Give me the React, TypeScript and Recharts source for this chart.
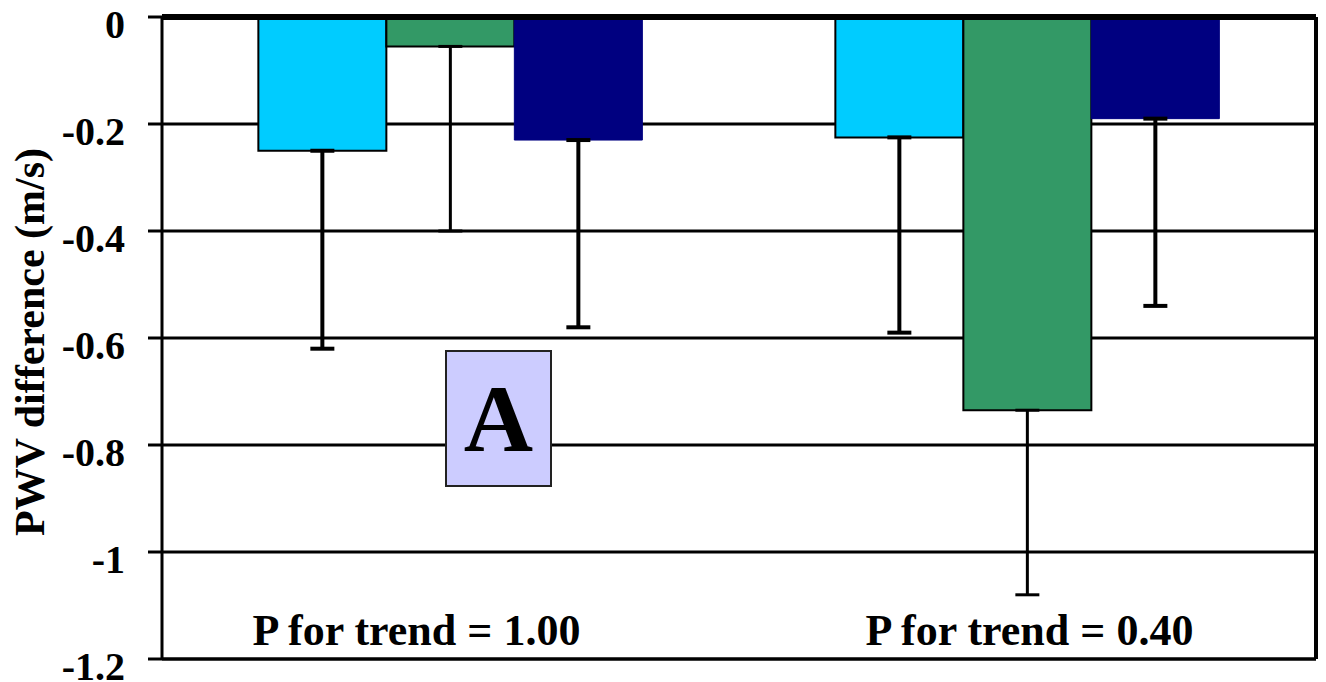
import { BarChart, Bar, XAxis, YAxis, CartesianGrid, ErrorBar, ReferenceLine } from 'recharts'

const categories = ['P for trend = 1.00', 'P for trend = 0.40']
const lightBlue = [-0.25, -0.225]
const green = [-0.055, -0.735]
const navy = [-0.23, -0.19]
// lower error extents (bars only show the downward whisker)
const lightBlueErr = [0.37, 0.365]
const greenErr = [0.345, 0.345]
const navyErr = [0.35, 0.35]
const yTicks = [0, -0.2, -0.4, -0.6, -0.8, -1, -1.2]

const data = categories.map((cat, i) => ({
  cat,
  lightBlue: lightBlue[i],
  green: green[i],
  navy: navy[i],
  lightBlueErr: [lightBlueErr[i], 0],
  greenErr: [greenErr[i], 0],
  navyErr: [navyErr[i], 0],
}))

const font = '"Liberation Serif", "Times New Roman", serif'
const labelDx = [-34, 2]

function YTick(props: any) {
  const { x, y, payload } = props
  return (
    <text x={x - 21} y={y + 21} textAnchor="end" fontFamily={font} fontWeight="bold" fontSize={40} fill="#000">
      {payload.value === 0 ? '0' : String(payload.value)}
    </text>
  )
}

function XTick(props: any) {
  const { x, y, payload, index } = props
  return (
    <text x={x + labelDx[index]} y={y - 22} textAnchor="middle" fontFamily={font} fontWeight="bold" fontSize={44} fill="#000">
      {payload.value}
    </text>
  )
}

function YLabel(props: any) {
  const { viewBox } = props
  const cy = viewBox.y + viewBox.height / 2 + 4
  return (
    <text x={30} y={cy} transform={`rotate(-90, 30, ${cy})`} textAnchor="middle" dominantBaseline="central"
      fontFamily={font} fontWeight="bold" fontSize={42} fill="#000">
      PWV difference (m/s)
    </text>
  )
}

export default function App() {
  return (
    <div style={{ position: 'absolute', left: 0, top: 0, width: 1326, height: 682, background: '#fff' }}>
      <BarChart width={1326} height={682} data={data} margin={{ top: 17, right: 0, bottom: 0, left: 0 }}
        barCategoryGap="16.7%" barGap={0}>
        <CartesianGrid vertical={false} stroke="#000" strokeWidth={3} />
        <XAxis dataKey="cat" height={23} axisLine={{ stroke: '#000', strokeWidth: 3 }} tickLine={false}
          tick={<XTick />} interval={0} />
        <YAxis width={162} domain={[-1.2, 0]} ticks={yTicks} allowDataOverflow
          axisLine={{ stroke: '#000', strokeWidth: 3 }} tickLine={{ stroke: '#000', strokeWidth: 3 }}
          tickSize={14} tick={<YTick />} label={<YLabel />} />
        <YAxis yAxisId="r" orientation="right" width={10} domain={[-1.2, 0]} tick={false} tickLine={false}
          axisLine={{ stroke: '#000', strokeWidth: 4 }} />
        <Bar dataKey="lightBlue" fill="#00CCFF" stroke="#000" strokeWidth={2} isAnimationActive={false}>
          <ErrorBar dataKey="lightBlueErr" width={12} stroke="#000" strokeWidth={4} direction="y" />
        </Bar>
        <Bar dataKey="green" fill="#339966" stroke="#000" strokeWidth={2} isAnimationActive={false}>
          <ErrorBar dataKey="greenErr" width={12} stroke="#000" strokeWidth={3} direction="y" />
        </Bar>
        <Bar dataKey="navy" fill="#000080" stroke="#000080" strokeWidth={1} isAnimationActive={false}>
          <ErrorBar dataKey="navyErr" width={12} stroke="#000" strokeWidth={4} direction="y" />
        </Bar>
        <ReferenceLine y={0} stroke="#000" strokeWidth={6} />
      </BarChart>
      <div style={{
        position: 'absolute', left: 445, top: 350, width: 107, height: 137, boxSizing: 'border-box',
        background: '#CCCCFF', border: '2px solid #222', display: 'flex', alignItems: 'center',
        justifyContent: 'center', fontFamily: font, fontWeight: 'bold', fontSize: 96, lineHeight: 1,
      }}>A</div>
    </div>
  )
}
